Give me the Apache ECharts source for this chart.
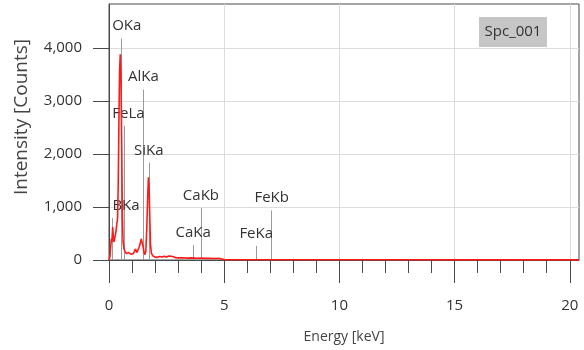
<!DOCTYPE html>
<html>
<head>
<meta charset="utf-8">
<script src="https://cdn.jsdelivr.net/npm/echarts@6/dist/echarts.min.js"></script>
<style>
  html, body { margin: 0; padding: 0; background: #fff; }
  #chart { width: 584px; height: 350px; }
</style>
</head>
<body>
<div id="chart"></div>
<script>
// spectrum (keV, counts)
const energy = [0, 0.04, 0.08, 0.10, 0.12, 0.14, 0.16, 0.18, 0.20, 0.22, 0.25, 0.28, 0.31, 0.34, 0.37,
  0.40, 0.43, 0.46, 0.49, 0.52, 0.55, 0.58, 0.61, 0.65, 0.70, 0.75, 0.80, 0.85, 0.90, 0.95, 1.00,
  1.05, 1.10, 1.15, 1.20, 1.25, 1.30, 1.35, 1.40, 1.44, 1.48, 1.52, 1.56, 1.60, 1.64, 1.68, 1.71,
  1.74, 1.77, 1.80, 1.84, 1.90, 1.95, 2.00, 2.10, 2.20, 2.30, 2.40, 2.50, 2.60, 2.65, 2.70, 2.75,
  2.80, 2.90, 3.00, 3.20, 3.40, 3.60, 3.80, 4.00, 4.20, 4.40, 4.60, 4.80, 4.90, 5.00, 6.0, 8.0,
  10.0, 12.0, 15.0, 18.0, 20.4];
const counts = [0, 60, 280, 400, 330, 450, 620, 480, 380, 340, 420, 480, 560, 690, 760,
  1400, 2600, 3600, 3880, 3500, 2200, 900, 350, 210, 160, 120, 110, 140, 120, 110, 140,
  120, 160, 210, 140, 170, 230, 300, 400, 420, 250, 140, 100, 180, 600, 1200, 1560,
  1400, 800, 300, 130, 80, 60, 55, 50, 65, 55, 70, 55, 75, 50, 70, 45,
  60, 42, 40, 42, 36, 40, 34, 36, 30, 32, 28, 30, 20, 8, 6, 5,
  4, 4, 3, 3, 3];

// peak identification lines
const peakNames = ['BKa', 'OKa', 'FeLa', 'AlKa', 'SiKa', 'CaKa', 'CaKb', 'FeKa', 'FeKb'];
const peakEnergy = [0.13, 0.51, 0.67, 1.49, 1.73, 3.65, 3.99, 6.39, 7.06];
const peakHeight = [790, 4180, 2530, 3215, 1835, 285, 980, 265, 935];
const peakLabelShift = [14, 6, 4, 0, 0, 0, 0, 0, 0];

const xMajorTicks = [0, 5, 10, 15, 20];
const xMinorTicks = [1, 2, 3, 4, 6, 7, 8, 9, 11, 12, 13, 14, 16, 17, 18, 19];
const yTicks = [0, 1000, 2000, 3000, 4000];

const FONT = 'Open Sans';
const chart = echarts.init(document.getElementById('chart'));

const peakLines = peakNames.map((name, i) => [
  { name: name, coord: [peakEnergy[i], 0],
    label: { offset: [peakLabelShift[i], 0] } },
  { coord: [peakEnergy[i], peakHeight[i]] }
]);

chart.setOption({
  animation: false,
  grid: {
    left: 109, right: 5, top: 4, bottom: 90, outerBoundsMode: 'none',
    show: true, borderColor: '#4a4a4a', borderWidth: 1
  },
  xAxis: [
    {
      type: 'value', min: 0, max: 20.4, position: 'bottom',
      name: 'Energy [keV]', nameLocation: 'middle', nameGap: 70,
      nameTextStyle: { fontFamily: FONT, fontSize: 14, color: '#444' },
      axisLine: { show: true, lineStyle: { color: '#4a4a4a' } },
      axisTick: { show: true, customValues: xMajorTicks, length: 23, lineStyle: { color: '#4a4a4a' } },
      axisLabel: { customValues: xMajorTicks, margin: 38, fontFamily: FONT, fontSize: 15, color: '#333' },
      splitLine: { lineStyle: { color: '#dcdcdc' } }
    },
    {
      // minor ticks; this axis ends up drawing its ticks upward, so flip with a negative length
      type: 'value', min: 0, max: 20.4, position: 'bottom',
      axisLine: { show: false },
      axisTick: { show: true, inside: true, customValues: xMinorTicks, length: -13, lineStyle: { color: '#4a4a4a' } },
      axisLabel: { show: false },
      splitLine: { show: false }
    }
  ],
  yAxis: {
    type: 'value', min: 0, max: 4830,
    name: 'Intensity [Counts]', nameLocation: 'middle', nameGap: 78,
    nameTextStyle: { fontFamily: FONT, fontSize: 19, color: '#444', padding: [0, 0, 0, 30] },
    axisLine: { show: true, lineStyle: { color: '#4a4a4a' } },
    axisTick: { show: true, customValues: yTicks, length: 16, lineStyle: { color: '#4a4a4a' } },
    axisLabel: {
      customValues: yTicks, margin: 27, fontFamily: FONT, fontSize: 15, color: '#333',
      formatter: v => v.toLocaleString('en-US')
    },
    splitLine: { lineStyle: { color: '#dcdcdc' } }
  },
  graphic: [
    { type: 'rect', shape: { x: 479, y: 17, width: 68, height: 30 }, style: { fill: '#c6c6c6' } },
    { type: 'text', x: 513, y: 32, style: { text: 'Spc_001', fontFamily: FONT, fontSize: 15, fill: '#333', align: 'center', verticalAlign: 'middle' } }
  ],
  series: [{
    type: 'line',
    xAxisIndex: 0,
    data: energy.map((e, i) => [e, counts[i]]),
    showSymbol: false,
    lineStyle: { color: '#ff1a1a', width: 1.6 },
    markLine: {
      silent: true, z: 1,
      symbol: ['none', 'none'],
      lineStyle: { color: '#9a9a9a', width: 1, type: 'solid' },
      label: { show: true, position: 'end', distance: 5, formatter: '{b}', fontFamily: FONT, fontSize: 15, color: '#333' },
      data: peakLines
    }
  }]
});
</script>
</body>
</html>
